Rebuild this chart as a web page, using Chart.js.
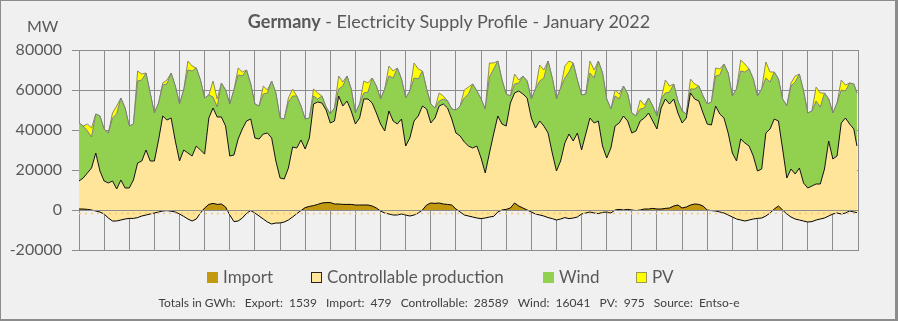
<!DOCTYPE html>
<html>
<head>
<meta charset="utf-8">
<script src="https://cdn.jsdelivr.net/npm/chart.js@4.4.1/dist/chart.umd.min.js"></script>
<style>
html, body { margin: 0; padding: 0; background: #f0f0f0; }
#box { position: relative; width: 898px; height: 321px; background: #f0f0f0; overflow: hidden; font-family: Lato, sans-serif; color: #595959; }
#box canvas { position: absolute; left: 0; top: 0; }
#frame { position: absolute; left: 0; top: 0; width: 898px; height: 321px; box-sizing: border-box; border: 1px solid #8c8c8c; border-right-width: 3px; border-bottom-width: 2px; pointer-events: none; }
#title { position: absolute; left: 0; top: 10px; width: 898px; text-align: center; font-size: 18px; white-space: pre; }
#unit { position: absolute; left: 27px; top: 16px; font-size: 16px; }
.lg { position: absolute; top: 266px; font-size: 17px; white-space: pre; }
.sw { position: absolute; top: 272px; width: 11px; height: 11px; box-sizing: border-box; }
#foot { position: absolute; left: 0; top: 295px; width: 898px; text-align: center; font-size: 12px; white-space: pre; color: #404040; }
</style>
</head>
<body>
<div id="box">
  <canvas id="chart" width="898" height="321"></canvas>
  <div id="title"><b>Germany</b> - Electricity Supply Profile - January 2022</div>
  <div id="unit">MW</div>
  <div class="sw" style="left:207px;background:#c39a0f;"></div><div class="lg" style="left:223px;">Import</div>
  <div class="sw" style="left:311px;background:#ffe599;border:1px solid #222;"></div><div class="lg" style="left:327px;">Controllable production</div>
  <div class="sw" style="left:543px;background:#92d050;"></div><div class="lg" style="left:559px;">Wind</div>
  <div class="sw" style="left:636px;background:#ffff00;border:1px solid #9a9a50;"></div><div class="lg" style="left:652px;">PV</div>
  <div id="foot">Totals in GWh:   Export:  1539   Import:  479   Controllable:  28589   Wind:  16041   PV:  975   Source:  Entso-e</div>
  <div id="frame"></div>
</div>
<script>
// hour of month for each sample (4-hourly readings, one line per day)
var hours = [
  0, 4, 8, 12, 16, 20,
  24, 28, 32, 36, 40, 44,
  48, 52, 56, 60, 64, 68,
  72, 76, 80, 84, 88, 92,
  96, 100, 104, 108, 112, 116,
  120, 124, 128, 132, 136, 140,
  144, 148, 152, 156, 160, 164,
  168, 172, 176, 180, 184, 188,
  192, 196, 200, 204, 208, 212,
  216, 220, 224, 228, 232, 236,
  240, 244, 248, 252, 256, 260,
  264, 268, 272, 276, 280, 284,
  288, 292, 296, 300, 304, 308,
  312, 316, 320, 324, 328, 332,
  336, 340, 344, 348, 352, 356,
  360, 364, 368, 372, 376, 380,
  384, 388, 392, 396, 400, 404,
  408, 412, 416, 420, 424, 428,
  432, 436, 440, 444, 448, 452,
  456, 460, 464, 468, 472, 476,
  480, 484, 488, 492, 496, 500,
  504, 508, 512, 516, 520, 524,
  528, 532, 536, 540, 544, 548,
  552, 556, 560, 564, 568, 572,
  576, 580, 584, 588, 592, 596,
  600, 604, 608, 612, 616, 620,
  624, 628, 632, 636, 640, 644,
  648, 652, 656, 660, 664, 668,
  672, 676, 680, 684, 688, 692,
  696, 700, 704, 708, 712, 716,
  720, 724, 728, 732, 736, 740, 743
];

// net import in MW (negative = export)
var netImport = [
  500, 500, 300, 0, -500, -1000,
  -2000, -4000, -5500, -5500, -5000, -4500,
  -4200, -4200, -3800, -3000, -2500, -2000,
  -1500, -1000, -500, -300, -600, -1000,
  -2000, -3200, -4500, -5500, -4500, -1500,
  1000, 2800, 3300, 2800, 3000, 1500,
  -2500, -5800, -5500, -4000, -1700, -300,
  -1500, -3000, -4500, -6000, -7000, -6500,
  -6500, -6000, -5000, -3500, -1800, -300,
  1200, 1800, 2200, 2800, 3500, 3700,
  3700, 3000, 3000, 2800, 2800, 2800,
  2500, 2500, 2500, 2500, 2000, 1000,
  -500, -1500, -2000, -2500, -2500, -2000,
  -2500, -3000, -2500, -1500, 0, 2500,
  3500, 3300, 3500, 3000, 2800, 2500,
  500, -1000, -2500, -3000, -3500, -4000,
  -4300, -4000, -3500, -3200, -1000, 0,
  300, 1000, 3500, 2000, 1000, 0,
  -1000, -2000, -2500, -3000, -3800, -4300,
  -5000, -4500, -3800, -4300, -4000, -3500,
  -2000, -1500, -1000, -1500, -1800, -1200,
  -1000, -1500, 0, 300, 0, 300,
  0, -300, 0, 500, 500, 800,
  500, 500, 800, 1000, 2000, 2500,
  1000, 1500, 2500, 3000, 2800, 2000,
  0, -300, -500, -1000, -1500, -2500,
  -3500, -4500, -5000, -5500, -5000, -4500,
  -4200, -4000, -3000, -1500, 500, 2000,
  0, -2000, -3500, -4500, -5000, -5500,
  -6000, -5800, -5000, -4500, -4000, -3000,
  -2000, -1500, -2000, -1500, -500, -1000, -1300
];

// controllable production in MW
var controllable = [
  14000, 15500, 18200, 21000, 29000, 20500,
  16500, 17500, 20000, 16000, 20000, 15500,
  15200, 19200, 27300, 27500, 32500, 26500,
  26000, 36000, 47500, 45300, 46600, 35500,
  26500, 33200, 33000, 32500, 36500, 31500,
  27000, 43200, 47700, 43700, 43500, 40500,
  29500, 33300, 41000, 44500, 46200, 45800,
  37500, 38500, 42500, 44500, 43000, 31000,
  22500, 21500, 26000, 35000, 32800, 35300,
  29300, 34200, 50800, 51200, 50000, 46300,
  39800, 41500, 54000, 49200, 51700, 46700,
  40500, 43500, 53000, 53000, 51500, 47500,
  43500, 41000, 51500, 47000, 45500, 47500,
  34500, 39000, 47000, 48500, 52000, 48000,
  40000, 42700, 48500, 50000, 48200, 43000,
  38000, 38000, 36500, 35000, 34500, 36000,
  30300, 22500, 32000, 41200, 48000, 43000,
  41700, 52500, 55000, 57500, 57000, 56000,
  47000, 43000, 47000, 45000, 42300, 32800,
  24500, 29000, 37300, 42300, 38500, 42000,
  32000, 39500, 47000, 45000, 46300, 33200,
  27000, 32500, 42000, 43200, 47000, 44200,
  38500, 39800, 44500, 45500, 48000, 43700,
  40000, 50500, 54700, 52000, 53500, 46000,
  42500, 44500, 56000, 52500, 51700, 46500,
  43000, 42800, 52500, 49000, 47500, 41000,
  32000, 29000, 40500, 39000, 37000, 31500,
  23700, 24500, 41500, 42000, 45000, 42500,
  30500, 18000, 24000, 22500, 26000, 19000,
  17000, 17800, 18000, 17500, 24500, 37500,
  27500, 28500, 45500, 47500, 43500, 41500, 33300
];

// wind in MW
var wind = [
  29000, 26000, 21000, 15500, 19500, 27500,
  26000, 25000, 31500, 37500, 41000, 40000,
  31000, 28000, 41000, 40500, 38500, 34000,
  24000, 18500, 15500, 18000, 22500, 27500,
  28500, 30000, 41500, 42500, 39000, 35000,
  28000, 11500, 5500, 5000, 17000, 18000,
  26000, 32500, 32000, 26500, 25500, 17500,
  17000, 16500, 20000, 20000, 28500, 34000,
  30000, 30000, 33000, 25500, 26000, 17000,
  15000, 10000, 4000, 1500, 3500, 1500,
  4500, 6500, 3500, 10000, 12500, 11000,
  5500, 7000, 3000, 3500, 12500, 13500,
  12500, 21000, 17500, 21500, 28000, 20000,
  24000, 23500, 21500, 18500, 17500, 10000,
  9500, 5000, 2500, 2500, 3500, 5000,
  11500, 15000, 22000, 26000, 32000, 27500,
  29500, 32000, 38000, 32500, 27500, 22000,
  16000, 3500, 4500, 4000, 9000, 8500,
  9500, 19500, 20000, 24000, 36000, 37500,
  36000, 36500, 32500, 31000, 39000, 26500,
  27500, 20000, 22500, 22500, 30000, 36500,
  29500, 19500, 15000, 12000, 15000, 13500,
  10000, 7500, 6000, 5000, 7500, 7500,
  6500, 4500, 3000, 6000, 7500, 6000,
  6000, 2000, 2000, 5000, 7500, 8500,
  10000, 11500, 15000, 19500, 27000, 30000,
  28500, 36000, 34000, 35500, 38500, 38500,
  37500, 40000, 27500, 23500, 23500, 21000,
  25000, 36000, 41500, 46000, 47000, 46000,
  37500, 37500, 41500, 38500, 38000, 21000,
  23000, 26500, 16500, 13500, 20500, 22500, 26500
];

// PV in MW
var pv = [
  0, 0, 3500, 4500, 0, 0,
  0, 0, 2500, 4000, 0, 0,
  0, 0, 5000, 3000, 0, 0,
  0, 0, 1000, 2000, 0, 0,
  0, 0, 4500, 2500, 0, 0,
  0, 0, 8000, 4000, 0, 0,
  0, 0, 3500, 2000, 0, 0,
  0, 0, 4000, 1500, 0, 0,
  0, 0, 2000, 3500, 0, 0,
  0, 0, 3500, 3000, 0, 0,
  0, 0, 6500, 2000, 0, 0,
  0, 0, 6000, 4500, 0, 0,
  0, 0, 5000, 3500, 0, 0,
  0, 0, 7500, 5000, 0, 0,
  0, 0, 4000, 1500, 0, 0,
  0, 0, 4000, 3500, 0, 0,
  0, 0, 7000, 3000, 0, 0,
  0, 0, 5000, 1500, 0, 0,
  0, 0, 8000, 4000, 0, 0,
  0, 0, 6000, 5500, 0, 0,
  0, 0, 6000, 4000, 0, 0,
  0, 0, 3000, 2500, 0, 0,
  0, 0, 4500, 1500, 0, 0,
  0, 0, 6500, 3000, 0, 0,
  0, 0, 5000, 2500, 0, 0,
  0, 0, 4000, 3000, 0, 0,
  0, 0, 5500, 4000, 0, 0,
  0, 0, 8000, 5000, 0, 0,
  0, 0, 1500, 3000, 0, 0,
  0, 0, 7000, 7000, 0, 0,
  0, 0, 5000, 3000, 0, 0, 0
];

// faint dotted reference level below zero
var dotLevel = -1800;

// stack the series on top of the net import line
var ctrlTop = controllable.map(function(v, i){ return netImport[i] + v; });
var windTop = wind.map(function(v, i){ return ctrlTop[i] + v; });
var pvTop = pv.map(function(v, i){ return windTop[i] + v; });

function pts(arr){
    return arr.map(function(v, i){ return {x: hours[i], y: v}; });
}

var gridGrey = '#8c8c8c';

var zeroLine = {
    id: 'zeroLine',
    afterDatasetsDraw: function(chart){
        var ctx = chart.ctx, area = chart.chartArea;
        var y0 = Math.round(chart.scales.y.getPixelForValue(0)) + 0.5;
        ctx.save();
        ctx.strokeStyle = gridGrey;
        ctx.lineWidth = 1;
        ctx.beginPath();
        ctx.moveTo(area.left, y0);
        ctx.lineTo(area.right, y0);
        ctx.stroke();
        ctx.restore();
    }
};

new Chart(document.getElementById('chart'), {
    type: 'line',
    data: {
        datasets: [
            {
                label: 'level',
                data: [{x: 0, y: dotLevel}, {x: 744, y: dotLevel}],
                borderColor: '#f3c878',
                borderWidth: 1.5,
                borderDash: [2, 4],
                fill: false
            },
            {
                label: 'Import',
                data: pts(netImport),
                borderColor: '#000000',
                borderWidth: 1,
                fill: {target: 'origin', above: '#c39a0f', below: 'rgba(0,0,0,0)'}
            },
            {
                label: 'Controllable production',
                data: pts(ctrlTop),
                borderColor: '#111111',
                borderWidth: 1,
                backgroundColor: '#ffe599',
                fill: 1
            },
            {
                label: 'Wind',
                data: pts(windTop),
                borderColor: '#7f7f7f',
                borderWidth: 1,
                backgroundColor: '#92d050',
                fill: 2
            },
            {
                label: 'PV',
                data: pts(pvTop),
                borderColor: '#8a8a60',
                borderWidth: 1,
                backgroundColor: '#ffff00',
                fill: 3
            }
        ]
    },
    options: {
        responsive: false,
        animation: false,
        devicePixelRatio: 1,
        layout: {padding: {left: 0, top: 50, right: 40, bottom: 71}},
        elements: {point: {radius: 0}, line: {tension: 0}},
        plugins: {legend: {display: false}, tooltip: {enabled: false}, title: {display: false}},
        scales: {
            x: {
                type: 'linear',
                min: 0,
                max: 744,
                ticks: {display: false, stepSize: 24, maxTicksLimit: 100, autoSkip: false},
                grid: {color: gridGrey, drawTicks: false},
                border: {color: gridGrey},
                afterFit: function(s){ s.height = 0; }
            },
            y: {
                min: -20000,
                max: 80000,
                ticks: {
                    stepSize: 10000,
                    padding: 10,
                    color: '#595959',
                    font: {family: 'Lato', size: 16},
                    callback: function(v){ return String(v); }
                },
                grid: {color: gridGrey, tickLength: 7},
                border: {color: gridGrey},
                afterFit: function(s){ s.width = 79; }
            }
        }
    },
    plugins: [zeroLine]
});
</script>
</body>
</html>
